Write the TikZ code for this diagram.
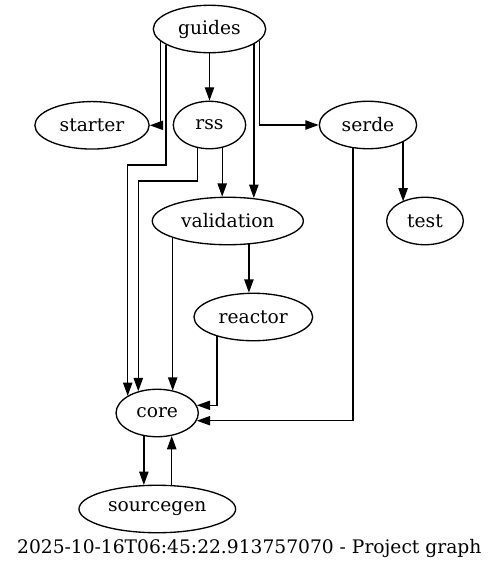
\documentclass[tikz,border=0pt]{standalone}
\usepackage{fontspec}
\setmainfont{DejaVu Serif}
\usetikzlibrary{shapes.geometric,arrows.meta}
\begin{document}
\begin{tikzpicture}[x=0.75pt,y=-0.75pt,
  mod/.style={ellipse, draw, line width=1pt, inner sep=0pt, minimum height=35.6pt, font=\fontsize{14}{16}\selectfont},
  dep/.style={line width=1pt, -{Triangle[length=10pt,width=7pt]}}]
\useasboundingbox (0,0) rectangle (499,569);
\node[mod, minimum width=84.3pt] (guides) at (209.5,29) {guides};
\node[mod, minimum width=85.7pt] (starter) at (92,125.3) {starter};
\node[mod, minimum width=54.3pt] (rss) at (209.5,125) {rss};
\node[mod, minimum width=73pt] (serde) at (368,125) {serde};
\node[mod, minimum width=113.3pt] (validation) at (227.8,221) {validation};
\node[mod, minimum width=57.5pt] (test) at (425,221) {test};
\node[mod, minimum width=89pt] (reactor) at (253.3,317) {reactor};
\node[mod, minimum width=61.7pt] (core) at (157.2,413) {core};
\node[mod, minimum width=117.5pt] (sourcegen) at (157.3,509) {sourcegen};
\node[anchor=base, inner sep=0pt, font=\fontsize{14}{16}\selectfont] (caption) at (249.3,553) {2025-10-16T06:45:22.913757070 - Project graph};
\coordinate (b1) at (127.7,165);
\coordinate (b2) at (138.3,181);
\draw[dep] (guides.south) -- (rss.north);
\draw[dep] (guides.-166.1) |- (starter.east);
\draw[dep] (guides.-160.1) |- (b1) -- (b1 |- core.150.8);
\draw[dep] (guides.-19.9) -- (guides.-19.9 |- validation.42.6);
\draw[dep] (guides.-13.6) |- (serde.west);
\draw[dep] (rss.-117.8) |- (b2) -- (b2 |- core.131.8);
\draw[dep] (rss.-61.3) -- (rss.-61.3 |- validation.104.45);
\draw[dep] (serde.-26.9) -- (serde.-26.9 |- test.140.9);
\draw[dep] (serde.-123) |- (core.-11.7);
\draw[dep] (validation.-163.2) -- (validation.-163.2 |- core.53.6);
\draw[dep] (validation.-48.1) -- (validation.-48.1 |- reactor.101.9);
\draw[dep] (reactor.-152.3) |- (core.11.7);
\draw[dep] (core.-120.4) -- (core.-120.4 |- sourcegen.119.6);
\draw[dep] (sourcegen.59.6) -- (sourcegen.59.6 |- core.-58.4);
\end{tikzpicture}
\end{document}
